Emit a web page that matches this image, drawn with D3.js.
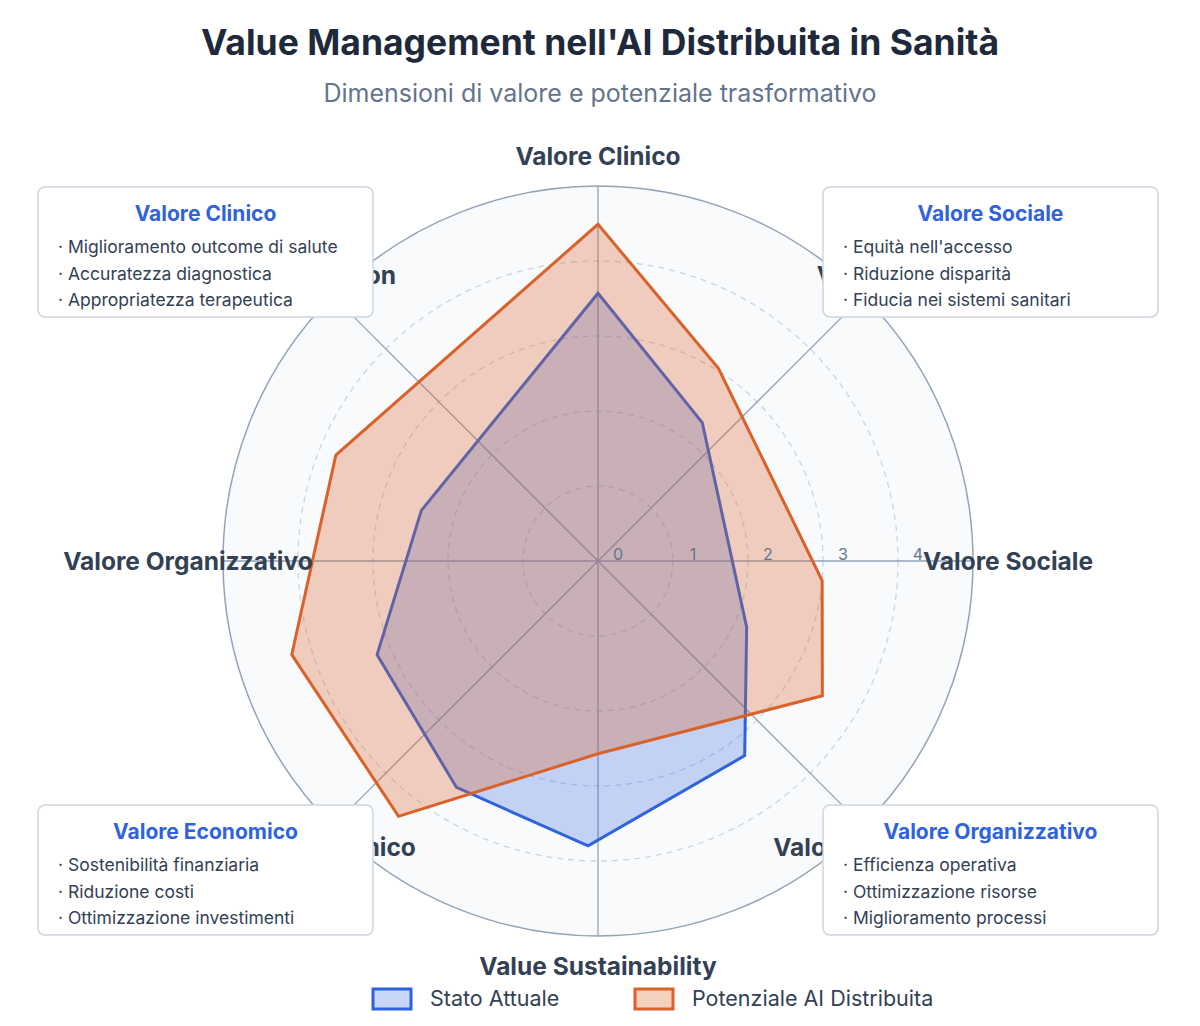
<!DOCTYPE html>
<html>
<head>
<meta charset="utf-8">
<script src="https://cdn.jsdelivr.net/npm/d3@7"></script>
<style>
  body { margin: 0; background: #fff; font-family: "Inter", "Noto Sans", sans-serif; }
</style>
</head>
<body>
<div id="chart"></div>
<script>
// axis labels, clockwise from top
const axisLabels = ["Valore Clinico", "Valore Etico", "Valore Sociale", "Valore Tecnologico",
  "Value Sustainability", "Valore Economico", "Valore Organizzativo", "Value Creation"];
const ticks = [0, 1, 2, 3, 4];

// polygon vertices (angle in degrees from top, value)
const attualeAngles = [0, 37, 114, 143, 182, 212, 247, 286];
const attualeValues = [3.57, 2.31, 2.17, 3.25, 3.8, 3.56, 3.2, 2.45];
const potenzialeAngles = [0, 32, 95, 121, 180, 218, 253, 292];
const potenzialeValues = [4.49, 3.03, 3.0, 3.49, 2.57, 4.32, 4.27, 3.77];

const boxes = [
  { title: "Valore Clinico", items: ["Miglioramento outcome di salute", "Accuratezza diagnostica", "Appropriatezza terapeutica"], x: 38, y: 187 },
  { title: "Valore Sociale", items: ["Equità nell'accesso", "Riduzione disparità", "Fiducia nei sistemi sanitari"], x: 823, y: 187 },
  { title: "Valore Economico", items: ["Sostenibilità finanziaria", "Riduzione costi", "Ottimizzazione investimenti"], x: 38, y: 805 },
  { title: "Valore Organizzativo", items: ["Efficienza operativa", "Ottimizzazione risorse", "Miglioramento processi"], x: 823, y: 805 }
];

const W = 1200, H = 1026, cx = 598, cy = 561;
const blue = "#2f63dd", orange = "#d9622b";

const svg = d3.select("#chart").append("svg").attr("width", W).attr("height", H);

svg.append("text").attr("x", W / 2).attr("y", 55).attr("text-anchor", "middle")
  .attr("font-size", 35.5).attr("font-weight", 700).attr("fill", "#1e293b")
  .text("Value Management nell'AI Distribuita in Sanità");
svg.append("text").attr("x", W / 2).attr("y", 102).attr("text-anchor", "middle")
  .attr("font-size", 25).attr("fill", "#64748b")
  .text("Dimensioni di valore e potenziale trasformativo");

const r = d3.scaleLinear().domain([0, 5]).range([0, 375]);
const g = svg.append("g").attr("transform", `translate(${cx},${cy})`);

g.append("circle").attr("r", r(5)).attr("fill", "#f8fafc").attr("stroke", "#94a3b8").attr("stroke-width", 1.5);
g.selectAll(".grid").data([1, 2, 3, 4]).join("circle")
  .attr("r", d => r(d)).attr("fill", "none").attr("stroke", "#cbd5e1")
  .attr("stroke-dasharray", "6,5").attr("stroke-width", 1.3);

const step = 2 * Math.PI / axisLabels.length;
g.selectAll(".axis").data(axisLabels).join("line")
  .attr("x1", 0).attr("y1", 0)
  .attr("x2", (d, i) => r(5) * Math.sin(i * step))
  .attr("y2", (d, i) => -r(5) * Math.cos(i * step))
  .attr("stroke", "#94a3b8").attr("stroke-width", 1.3);

const radial = d3.lineRadial().curve(d3.curveLinearClosed);
function poly(angles, values, color, fillOp) {
  const pts = angles.map((a, i) => [a * Math.PI / 180, r(values[i])]);
  g.append("path").attr("d", radial(pts))
    .attr("fill", color).attr("fill-opacity", fillOp)
    .attr("stroke", color).attr("stroke-width", 3).attr("stroke-linejoin", "miter");
}
poly(attualeAngles, attualeValues, blue, 0.27);
poly(potenzialeAngles, potenzialeValues, orange, 0.3);

g.selectAll(".tick").data(ticks).join("text")
  .attr("x", d => r(d) + 20).attr("y", -1)
  .attr("text-anchor", "middle").attr("font-size", 16).attr("fill", "#64748b")
  .text(d => d);

g.selectAll(".lab").data(axisLabels).join("text")
  .attr("x", (d, i) => 410 * Math.sin(i * step))
  .attr("y", (d, i) => -405 * Math.cos(i * step) + 9)
  .attr("text-anchor", "middle").attr("font-size", 24.5).attr("font-weight", 700)
  .attr("fill", "#334155").text(d => d);

boxes.forEach(b => {
  const bg = svg.append("g").attr("transform", `translate(${b.x},${b.y})`);
  bg.append("rect").attr("width", 335).attr("height", 130).attr("rx", 7)
    .attr("fill", "#fff").attr("stroke", "#cbd5e1").attr("stroke-width", 1.5);
  bg.append("text").attr("x", 167.5).attr("y", 34).attr("text-anchor", "middle")
    .attr("font-size", 21).attr("font-weight", 700).attr("fill", "#2f63dd").text(b.title);
  b.items.forEach((t, i) => {
    bg.append("text").attr("x", 20).attr("y", 66 + i * 26.5)
      .attr("font-size", 17.5).attr("fill", "#334155").text("· " + t);
  });
});

const legend = [{ name: "Stato Attuale", color: blue, op: 0.27, x: 373 }, { name: "Potenziale AI Distribuita", color: orange, op: 0.3, x: 635 }];
legend.forEach(l => {
  svg.append("rect").attr("x", l.x).attr("y", 989).attr("width", 38).attr("height", 20)
    .attr("fill", l.color).attr("fill-opacity", l.op).attr("stroke", l.color).attr("stroke-width", 3);
  svg.append("text").attr("x", l.x + 57).attr("y", 1006).attr("font-size", 21.5).attr("fill", "#334155").text(l.name);
});
</script>
</body>
</html>
